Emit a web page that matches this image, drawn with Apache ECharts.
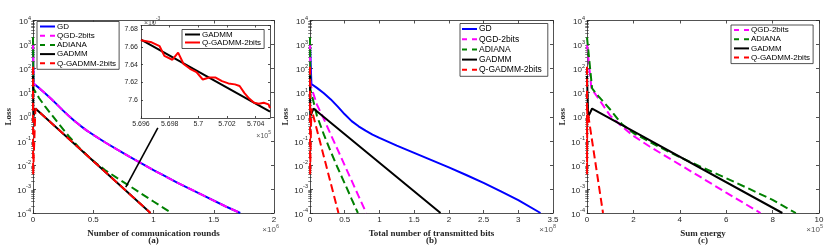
<!DOCTYPE html>
<html><head><meta charset="utf-8">
<script src="https://cdn.jsdelivr.net/npm/echarts@6/dist/echarts.min.js"></script>
<style>html,body{margin:0;padding:0;background:#fff}#c{width:830px;height:247px}</style>
</head><body><div id="c"></div>
<script>
// ---- Panel (a): x = communication rounds (x 1e6), y = loss
const aGD     = [[0,1500],[0.004,24],[0.05,15.8],[0.1,9.5],[0.15,5.6],[0.2,3.2],[0.25,1.8],[0.3,1.05],[0.35,0.63],[0.4,0.4],[0.45,0.26],[0.5,0.178],[0.6,0.085],[0.7,0.0427],[0.8,0.0219],[0.9,0.0115],[1.0,0.006],[1.1,0.0033],[1.2,0.0018],[1.4,0.00058],[1.6,0.000186],[1.72,0.0001]];
const aQGD    = [[0,1200],[0.004,24],[0.05,15.8],[0.1,9.5],[0.15,5.6],[0.2,3.2],[0.25,1.8],[0.3,1.05],[0.35,0.63],[0.4,0.4],[0.45,0.26],[0.5,0.178],[0.6,0.085],[0.7,0.0427],[0.8,0.0219],[0.9,0.0115],[1.0,0.006],[1.1,0.0033],[1.2,0.0018],[1.4,0.00058],[1.6,0.000186],[1.72,0.0001]];
const aADIANA = [[0,2000],[0.004,15],[0.05,6],[0.1,2.7],[0.15,1.3],[0.2,0.62],[0.3,0.15],[0.4,0.042],[0.5,0.0145],[0.6,0.006],[0.7,0.0028],[0.8,0.00135],[0.9,0.00063],[1.0,0.0003],[1.15,0.0001]];
const aGADMM  = [[0,50],[0.003,1.0],[0.02,2.2],[0.975,0.0001]];
const aQGADMM = [[0,120],[0.001,0.004],[0.02,2.2],[0.975,0.0001]];
const arrowFrom = [1.036, 0.341];
const arrowTo   = [0.77, 0.0012];

// ---- Panel (b): x = total transmitted bits (x 1e8)
const bGD     = [[0,1000],[0.02,22.9],[0.1,15.8],[0.2,9.5],[0.3,5.25],[0.4,2.63],[0.5,1.26],[0.6,0.66],[0.7,0.4],[0.8,0.263],[0.9,0.182],[1.0,0.132],[1.25,0.063],[1.5,0.0316],[1.75,0.0158],[2.0,0.0079],[2.25,0.0038],[2.5,0.00178],[2.75,0.00079],[3.0,0.00034],[3.32,0.0001]];
const bQGD    = [[0,1000],[0.005,22],[0.1,3.2],[0.2,0.8],[0.3,0.18],[0.4,0.042],[0.5,0.0095],[0.6,0.0022],[0.7,0.0005],[0.81,0.0001]];
const bADIANA = [[0,2000],[0.005,14],[0.1,1.1],[0.2,0.18],[0.3,0.035],[0.4,0.0074],[0.5,0.0017],[0.6,0.00038],[0.69,0.0001]];
const bGADMM  = [[0,50],[0.003,1.0],[0.05,2.2],[1.88,0.0001]];
const bQGADMM = [[0,120],[0.001,0.004],[0.02,2.2],[0.41,0.0001]];

// ---- Panel (c): x = sum energy (x 1e5)
const cQGD    = [[0,1000],[0.19,15],[0.5,5.6],[1.0,1.1],[1.5,0.4],[2.0,0.16],[2.7,0.058],[4,0.0102],[5,0.0027],[6,0.0007],[7.48,0.0001]];
const cADIANA = [[0,2000],[0.22,15],[0.5,7],[1.0,2.0],[1.5,0.5],[2,0.21],[3,0.063],[4,0.021],[5,0.0076],[6,0.0028],[7,0.001],[8,0.00035],[9,0.0001]];
const cGADMM  = [[0,50],[0.05,1.0],[0.22,2.2],[8.42,0.0001]];
const cQGADMM = [[0,120],[0.003,0.004],[0.01,2.2],[0.69,0.0001]];

// ---- Inset: x = rounds (x 1e5), y = loss (x 1e-3)
const insGADMM  = [[5.696,7.668],[5.705,7.5873]];
const insQGADMM = [[5.696,7.6673],[5.69674,7.6651],[5.6973,7.6607],[5.69763,7.6498],[5.69819,7.6455],[5.69859,7.6535],[5.69897,7.6407],[5.69942,7.6353],[5.69987,7.6316],[5.70031,7.6233],[5.70076,7.6255],[5.70121,7.6255],[5.70165,7.6215],[5.7021,7.6189],[5.70255,7.6178],[5.70288,7.6160],[5.70322,7.6080],[5.70355,7.6018],[5.70389,7.5971],[5.70422,7.5960],[5.70456,7.5971],[5.7049,7.5953],[5.705,7.591]];

const names = ['GD','QGD-2bits','ADIANA','GADMM','Q-GADMM-2bits'];
const xTitles = ['Number of communication rounds','Total number of transmitted bits','Sum energy'];
const panelTags = ['(a)','(b)','(c)'];
const xExp = ['6','8','5'];

// minor tick positions of the log axes (2..9 x 10^k)
const minorTicks = [];
for (let k = -4; k < 4; k++) for (let m = 2; m <= 9; m++) minorTicks.push(+(m * Math.pow(10, k)).toPrecision(3));

const FONT = "'Liberation Sans', Arial, Helvetica, sans-serif";
const SERIF = "'Liberation Serif', 'Times New Roman', serif";
const AX = '#262626';
const COL = {'GD':'#0000ff','QGD-2bits':'#ff00ff','ADIANA':'#008000','GADMM':'#000000','Q-GADMM-2bits':'#ff0000'};
const DASH = {'GD':false,'QGD-2bits':true,'ADIANA':true,'GADMM':false,'Q-GADMM-2bits':true};
const ICON_SOLID = 'path://M0,0H15V2H0Z';
const ICON_DASH  = 'path://M0,0H5V2H0Z M10,0H15V2H10Z';

const grids = [
  {left:33, top:20.5, width:241, height:192.5},
  {left:310, top:20.5, width:243, height:192.5},
  {left:587, top:20.5, width:232, height:192.5},
  {left:141, top:25.5, width:129, height:92.5, show:true, backgroundColor:'#fff', borderWidth:0, z:5}
].map(g => Object.assign({outerBoundsMode:'none', containLabel:false}, g));

const axLine = {show:true, onZero:false, lineStyle:{color:AX, width:0.8}};
const axTick = {show:true, inside:true, length:3, lineStyle:{color:AX, width:0.8}};

function xAx(g, min, max, interval, top, name, extra) {
  return Object.assign({
    type:'value', gridIndex:g, position: top ? 'top' : 'bottom', min, max, interval,
    axisLine: axLine, axisTick: axTick, splitLine:{show:false},
    axisLabel:{show:!top, color:AX, fontSize:8, fontFamily:FONT, margin:3},
    name: top ? '' : name, nameLocation:'middle', nameGap:14,
    nameTextStyle:{fontFamily:SERIF, fontWeight:'bold', fontSize:9, color:AX}
  }, extra || {});
}
function yLog(g, right) {
  return {
    type:'log', logBase:10, gridIndex:g, position: right ? 'right' : 'left',
    min:1e-4, max:1e4, splitNumber:8,
    axisLine: axLine, axisTick: axTick, splitLine:{show:false},
    axisLabel:{show:!right, margin:2,
      formatter: v => '{b|10}{s|' + Math.round(Math.log10(v)) + '}',
      rich:{ b:{fontSize:8, fontFamily:FONT, color:AX, lineHeight:11, verticalAlign:'bottom'},
             s:{fontSize:5.5, fontFamily:FONT, color:AX, lineHeight:6, verticalAlign:'top'} } },
    name: right ? '' : 'Loss', nameLocation:'middle', nameGap:18, nameRotate:90,
    nameTextStyle:{fontFamily:SERIF, fontWeight:'bold', fontSize:9, color:AX}
  };
}
function yMinor(g, right) {
  return {
    type:'log', logBase:10, gridIndex:g, position: right ? 'right' : 'left',
    min:1e-4, max:1e4, splitNumber:8,
    axisLine:{show:false}, axisLabel:{show:false}, splitLine:{show:false},
    axisTick:{show:true, inside:true, length:1.8, customValues:minorTicks, lineStyle:{color:AX, width:0.6}}
  };
}

const xAxes = [], yAxes = [];
const xr = [[0,2,0.5],[0,3.5,0.5],[0,10,2]];
for (let p = 0; p < 3; p++) {
  xAxes.push(xAx(p, xr[p][0], xr[p][1], xr[p][2], false, xTitles[p]));
  xAxes.push(xAx(p, xr[p][0], xr[p][1], xr[p][2], true, ''));
  yAxes.push(yLog(p, false));
  yAxes.push(yLog(p, true));
}
// inset axes
const insLbl = {color:AX, fontSize:7, fontFamily:FONT, margin:3};
xAxes.push(xAx(3, 5.696, 5.705, 0.002, false, '', {axisLabel:Object.assign({}, insLbl, {showMaxLabel:false, formatter: v => String(+v.toFixed(3))}), axisTick:Object.assign({}, axTick, {length:2}), z:6}));
xAxes.push(xAx(3, 5.696, 5.705, 0.002, true, '', {axisTick:Object.assign({}, axTick, {length:2}), z:6}));
const insY = (right) => ({type:'value', gridIndex:3, position: right?'right':'left', min:7.58, max:7.684, interval:0.02,
  axisLine: axLine, axisTick:Object.assign({}, axTick, {length:2}), splitLine:{show:false}, z:6,
  axisLabel: Object.assign({}, insLbl, {show:!right, showMinLabel:false, showMaxLabel:false, formatter: v => String(+v.toFixed(2))})});
yAxes.push(insY(false));
yAxes.push(insY(true));
// minor ticks on the log axes (indices 8..13)
for (let p = 0; p < 3; p++) { yAxes.push(yMinor(p, false)); yAxes.push(yMinor(p, true)); }

function line(name, data, xi, yi, extra) {
  return Object.assign({
    type:'line', name, data, xAxisIndex:xi, yAxisIndex:yi,
    showSymbol:false, symbol:'none', animation:false, silent:true,
    lineStyle:{color:COL[name], width:2, type: DASH[name] ? [8,4] : 'solid'},
    itemStyle:{color:COL[name]}
  }, extra || {});
}

const panelData = [
  {'GD':aGD,'QGD-2bits':aQGD,'ADIANA':aADIANA,'GADMM':aGADMM,'Q-GADMM-2bits':aQGADMM},
  {'GD':bGD,'QGD-2bits':bQGD,'ADIANA':bADIANA,'GADMM':bGADMM,'Q-GADMM-2bits':bQGADMM},
  {'QGD-2bits':cQGD,'ADIANA':cADIANA,'GADMM':cGADMM,'Q-GADMM-2bits':cQGADMM}
];
const series = [];
panelData.forEach((pd, p) => {
  names.forEach(n => { if (pd[n]) series.push(line(n, pd[n], 2*p, 2*p)); });
});
// arrow annotation on panel (a)
series.push({type:'line', name:'arrow', data:[], xAxisIndex:0, yAxisIndex:0, silent:true, animation:false,
  markLine:{silent:true, animation:false, symbol:['none','arrow'], symbolSize:[0,7], label:{show:false},
    lineStyle:{color:'#000', width:1.6, type:'solid'},
    data:[[{coord:arrowFrom},{coord:arrowTo}]]}});
// inset
series.push(line('GADMM', insGADMM, 6, 6, {z:7}));
series.push(line('Q-GADMM-2bits', insQGADMM, 6, 6, {z:8, lineStyle:{color:'#ff0000', width:2, type:'solid'}}));

const legItems = (list, solidOnly) => list.map(n => ({name:n, icon: (!solidOnly && DASH[n]) ? ICON_DASH : ICON_SOLID}));
const legBase = {orient:'vertical', itemWidth:15, itemHeight:2, itemGap:1.2, padding:[1,3,2,3],
  borderColor:AX, borderWidth:0.8, backgroundColor:'#fff', selectedMode:false, borderRadius:0,
  itemStyle:{borderWidth:0},
  textStyle:{fontSize:8, lineHeight:8, fontFamily:FONT, color:'#000', padding:[0,0,0,-3]}};
const legends = [
  Object.assign({}, legBase, {data:legItems(names), left:37, top:21.5}),
  Object.assign({}, legBase, {data:legItems(names), left:460, top:23.5, textStyle:Object.assign({}, legBase.textStyle, {fontSize:8.5, lineHeight:8.3}), padding:[1,6,2,2]}),
  Object.assign({}, legBase, {data:legItems(names.slice(1)), left:731, top:25}),
  Object.assign({}, legBase, {data:legItems(['GADMM','Q-GADMM-2bits'], true), left:182, top:29.5, itemGap:0, z:10})
];

function txt(x, y, text, opt) {
  return Object.assign({type:'text', x, y, silent:true, z:20, style:Object.assign({text, fill:AX, font:'8px ' + FONT}, opt||{})});
}
const graphic = [
  txt(153.5, 241, '(a)', {font:'bold 9px ' + SERIF, align:'center', verticalAlign:'middle'}),
  txt(431.5, 241, '(b)', {font:'bold 9px ' + SERIF, align:'center', verticalAlign:'middle'}),
  txt(703, 241, '(c)', {font:'bold 9px ' + SERIF, align:'center', verticalAlign:'middle'}),
];
const expPos = [[279,228.5],[556,228.5],[823,228.5]];
expPos.forEach((pp, i) => {
  graphic.push(txt(pp[0], pp[1], '{m|×10}{s|' + xExp[i] + '}', {align:'right', verticalAlign:'middle',
    rich:{m:{fontSize:8, fontFamily:FONT, fill:'#555', lineHeight:11, verticalAlign:'bottom'}, s:{fontSize:5.5, fontFamily:FONT, fill:'#555', lineHeight:6, verticalAlign:'top'}}}));
});
graphic.push(txt(144, 21.5, '{m|×10}{s|-3}', {align:'left', verticalAlign:'middle',
  rich:{m:{fontSize:7, fontFamily:FONT, fill:'#555', lineHeight:10, verticalAlign:'bottom'}, s:{fontSize:5, fontFamily:FONT, fill:'#555', lineHeight:5, verticalAlign:'top'}}}));
graphic.push(txt(271, 135, '{m|×10}{s|5}', {align:'right', verticalAlign:'middle',
  rich:{m:{fontSize:7, fontFamily:FONT, fill:'#555', lineHeight:10, verticalAlign:'bottom'}, s:{fontSize:5, fontFamily:FONT, fill:'#555', lineHeight:5, verticalAlign:'top'}}}));

const chart = echarts.init(document.getElementById('c'), null, {renderer:'canvas'});
chart.setOption({
  animation:false, backgroundColor:'#fff',
  grid: grids, xAxis: xAxes, yAxis: yAxes, series, legend: legends, graphic
});
</script></body></html>
